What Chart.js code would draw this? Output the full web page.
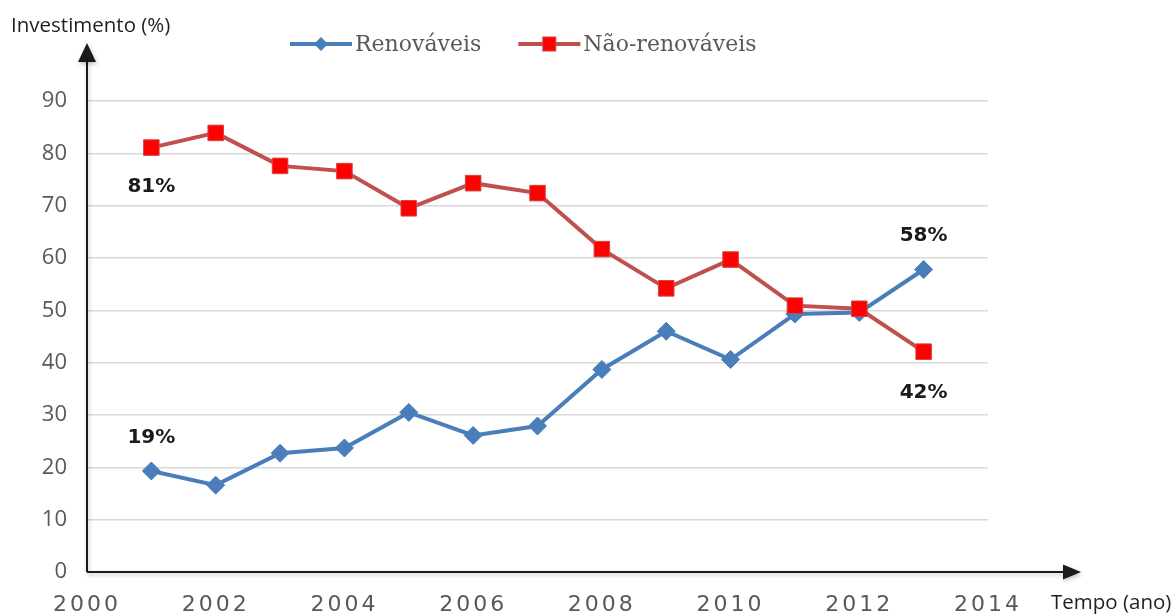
<!DOCTYPE html>
<html><head><meta charset="utf-8">
<script src="https://cdn.jsdelivr.net/npm/chart.js@4.4.0/dist/chart.umd.min.js"></script>
<style>html,body{margin:0;padding:0;background:#fff}#wrap{width:1174px;height:616px;position:relative}canvas{display:block}</style>
</head><body><div id="wrap"><canvas id="c" width="1174" height="616"></canvas></div>
<script>
// ---- data ----
const years = [2001, 2002, 2003, 2004, 2005, 2006, 2007, 2008, 2009, 2010, 2011, 2012, 2013];
const renovaveis = [19.3, 16.6, 22.7, 23.7, 30.5, 26.1, 27.9, 38.7, 46.0, 40.6, 49.3, 49.6, 57.8];
const naoRenovaveis = [81.1, 83.9, 77.6, 76.6, 69.5, 74.3, 72.4, 61.7, 54.2, 59.7, 50.9, 50.3, 42.1];
const seriesNames = ['Renováveis', 'Não-renováveis'];
const xTickValues = [2000, 2002, 2004, 2006, 2008, 2010, 2012, 2014];
const xTickLabels = ['2000', '2002', '2004', '2006', '2008', '2010', '2012', '2014'];
const yTickValues = [0, 10, 20, 30, 40, 50, 60, 70, 80, 90];
const yTickLabels = ['0', '10', '20', '30', '40', '50', '60', '70', '80', '90'];
const yAxisTitle = 'Investimento (%)';
const xAxisTitle = 'Tempo (ano)';

const BLUE = '#4a7ebb', RED_LINE = '#c0504d', RED_FILL = '#ff0000';

const decorPlugin = {
  id: 'decor',
  beforeDraw(chart) {
    const xs = chart.scales.x;
    if (xs && !xs._spaced) {
      const orig = xs.drawLabels.bind(xs);
      xs.drawLabels = function (area) {
        const ctx = this.ctx; ctx.save();
        try { ctx.letterSpacing = '3px'; } catch (e) {}
        orig(area); ctx.restore();
      };
      xs._spaced = true;
    }
  },
  beforeDatasetsDraw(chart) {
    const ctx = chart.ctx, a = chart.chartArea;
    ctx.save();
    ctx.strokeStyle = '#1a1a1a'; ctx.fillStyle = '#1a1a1a'; ctx.lineWidth = 2;
    ctx.shadowColor = 'rgba(0,0,0,0.25)'; ctx.shadowBlur = 4; ctx.shadowOffsetX = 1; ctx.shadowOffsetY = 2;
    const yTip = a.top - 58, xTip = a.right + 93;
    ctx.beginPath();
    ctx.moveTo(a.left, a.bottom); ctx.lineTo(a.left, yTip + 16);
    ctx.moveTo(a.left, a.bottom); ctx.lineTo(xTip - 16, a.bottom);
    ctx.stroke();
    ctx.beginPath();
    ctx.moveTo(a.left, yTip); ctx.lineTo(a.left - 9, yTip + 19); ctx.lineTo(a.left + 9, yTip + 19); ctx.closePath(); ctx.fill();
    ctx.beginPath();
    ctx.moveTo(xTip, a.bottom); ctx.lineTo(xTip - 18, a.bottom - 7.5); ctx.lineTo(xTip - 18, a.bottom + 7.5); ctx.closePath(); ctx.fill();
    ctx.restore();
  },
  afterDraw(chart) {
    const ctx = chart.ctx, a = chart.chartArea;
    ctx.save();
    // axis titles
    ctx.fillStyle = '#1f1f1f';
    ctx.font = '20.5px "Open Sans"';
    ctx.textBaseline = 'middle'; ctx.textAlign = 'left';
    ctx.fillText(yAxisTitle, 11, 26);
    ctx.fillText(xAxisTitle, 1051, 603);
    // value labels at first and last points
    ctx.font = 'bold 20px "DejaVu Sans"'; ctx.fillStyle = '#1a1a1a'; ctx.textAlign = 'center';
    const specs = [[0, 0, -33], [0, years.length - 1, -34], [1, 0, 39], [1, years.length - 1, 41]];
    specs.forEach(([d, i, dy]) => {
      const el = chart.getDatasetMeta(d).data[i];
      const v = chart.data.datasets[d].data[i].y;
      ctx.fillText(Math.round(v) + '%', el.x, el.y + dy);
    });
    // legend
    ctx.font = '22px "DejaVu Serif"'; ctx.textAlign = 'left';
    let x = 290; const ly = 44;
    chart.data.datasets.forEach((ds, k) => {
      ctx.strokeStyle = ds.borderColor; ctx.lineWidth = 4; ctx.lineCap = 'butt';
      ctx.beginPath(); ctx.moveTo(x, ly); ctx.lineTo(x + 62, ly); ctx.stroke();
      const cx = x + 31;
      ctx.fillStyle = ds.pointBackgroundColor;
      if (ds.pointStyle === 'rectRot') {
        ctx.beginPath(); ctx.moveTo(cx, ly - 7); ctx.lineTo(cx + 7, ly); ctx.lineTo(cx, ly + 7); ctx.lineTo(cx - 7, ly); ctx.closePath(); ctx.fill();
      } else {
        ctx.fillRect(cx - 6.5, ly - 7, 13, 14);
        ctx.strokeStyle = ds.pointBorderColor; ctx.lineWidth = 1; ctx.strokeRect(cx - 6.5, ly - 7, 13, 14);
      }
      ctx.fillStyle = '#595959';
      ctx.fillText(ds.label, x + 65, ly + 1);
      x += 65 + ctx.measureText(ds.label).width + 37;
    });
    ctx.restore();
  }
};

new Chart(document.getElementById('c'), {
  type: 'line',
  data: {
    datasets: [
      {
        label: seriesNames[0],
        data: years.map((x, i) => ({ x, y: renovaveis[i] })),
        borderColor: BLUE, backgroundColor: BLUE, borderWidth: 4,
        pointStyle: 'rectRot', pointRadius: 9, pointBorderWidth: 1,
        pointBackgroundColor: BLUE, pointBorderColor: BLUE,
        tension: 0, order: 1
      },
      {
        label: seriesNames[1],
        data: years.map((x, i) => ({ x, y: naoRenovaveis[i] })),
        borderColor: RED_LINE, backgroundColor: RED_FILL, borderWidth: 4,
        pointStyle: 'rect', pointRadius: 11, pointBorderWidth: 1,
        pointBackgroundColor: RED_FILL, pointBorderColor: '#d04545',
        tension: 0, order: 0
      }
    ]
  },
  options: {
    responsive: false, animation: false, devicePixelRatio: 1,
    layout: { padding: { top: 101, left: 0, right: 186, bottom: 0 } },
    plugins: { legend: { display: false }, tooltip: { enabled: false } },
    scales: {
      x: {
        type: 'linear', min: 2000, max: 2014,
        afterBuildTicks: s => { s.ticks = xTickValues.map(v => ({ value: v })); },
        afterFit: s => { s.height = 44; },
        ticks: {
          callback: v => xTickLabels[xTickValues.indexOf(v)],
          font: { family: 'DejaVu Sans', size: 22 }, color: '#595959',
          padding: 20, maxRotation: 0, autoSkip: false
        },
        grid: { display: false, drawTicks: false },
        border: { display: false }
      },
      y: {
        min: 0, max: 90,
        afterBuildTicks: s => { s.ticks = yTickValues.map(v => ({ value: v })); },
        afterFit: s => { s.width = 87; },
        ticks: {
          callback: v => yTickLabels[yTickValues.indexOf(v)],
          font: { family: 'Open Sans', size: 22 }, color: '#595959', padding: 20
        },
        grid: {
          color: c => (c.tick && c.tick.value === 0) ? 'rgba(0,0,0,0)' : '#d9d9d9',
          lineWidth: 1.5, drawTicks: false
        },
        border: { display: false }
      }
    }
  },
  plugins: [decorPlugin]
});
</script>
</body></html>
